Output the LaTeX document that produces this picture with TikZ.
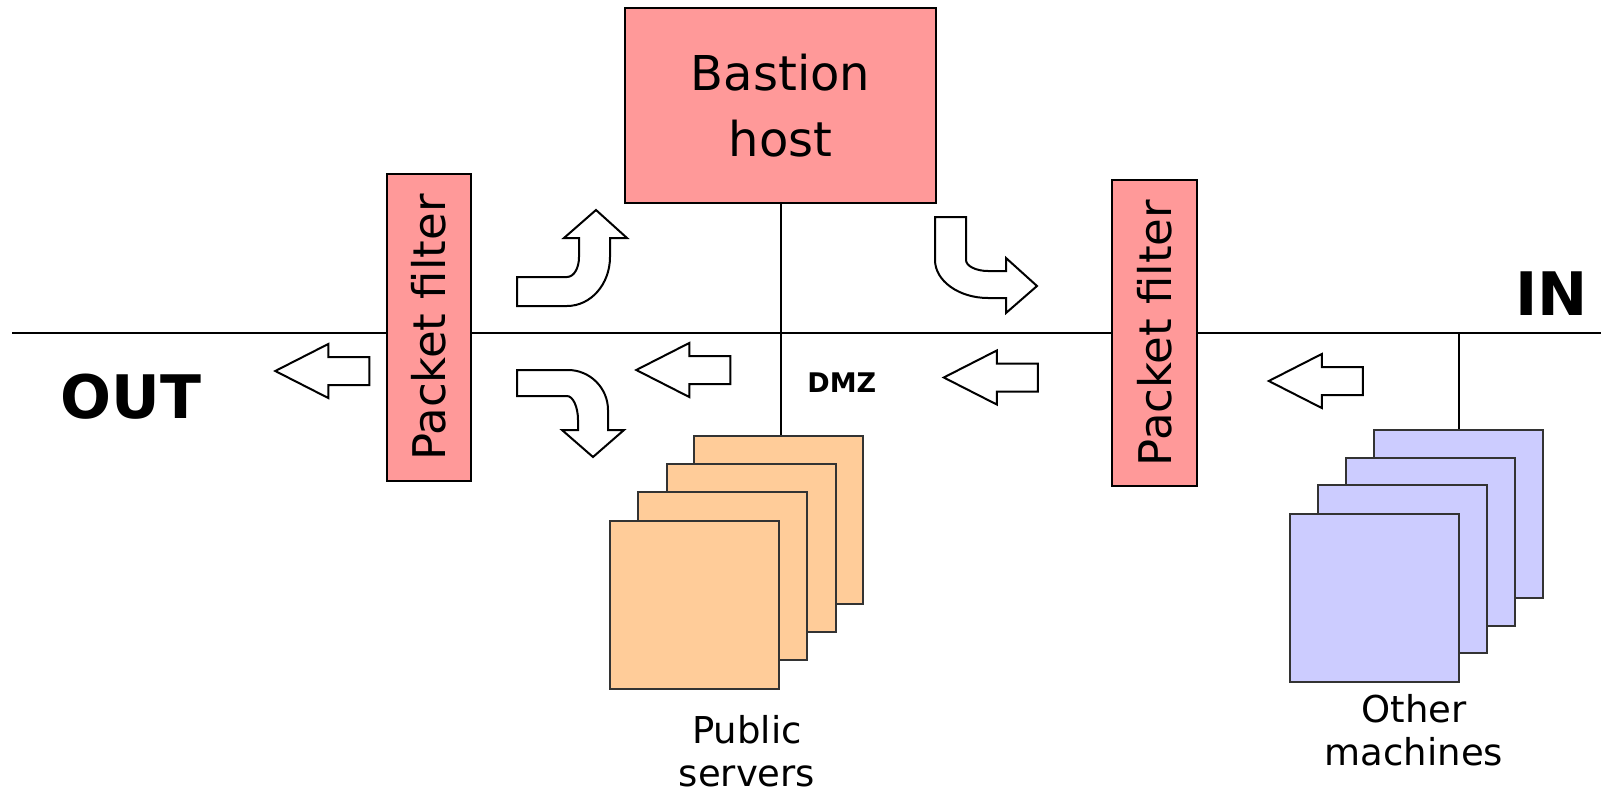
\documentclass[tikz,border=0pt]{standalone}
\usepackage{fontspec}
\setmainfont{DejaVu Sans}
\usetikzlibrary{positioning,shapes.arrows}
\definecolor{pinkbox}{RGB}{255,153,153}
\definecolor{srvfill}{RGB}{255,204,153}
\definecolor{othfill}{RGB}{204,204,255}
\tikzset{
  wire/.style   = {line width=1pt},
  hbox/.style   = {draw, fill=pinkbox, line width=1pt, inner sep=0pt,
                   minimum width=155.5pt, minimum height=97.5pt, align=center,
                   font=\fontsize{24}{33}\selectfont},
  pfbox/.style  = {draw, fill=pinkbox, line width=1pt, inner sep=0pt,
                   minimum width=42pt, minimum height=153.5pt,
                   font=\fontsize{22.5}{27}\selectfont},
  srv/.style    = {draw=black!80, fill=srvfill, line width=1pt, inner sep=0pt,
                   minimum width=84.5pt, minimum height=84pt},
  oth/.style    = {srv, fill=othfill},
  blk/.style    = {single arrow, draw, fill=white, line width=1pt,
                   inner xsep=0pt, inner ysep=6.5pt, minimum height=47pt,
                   single arrow head extend=6.5pt, single arrow tip angle=54,
                   shape border rotate=180},
  carrow/.style = {draw, fill=white, line width=1pt},
  lbl/.style    = {inner sep=0pt, align=center, font=\fontsize{18.5}{21.5}\selectfont},
  blbl/.style   = {inner sep=0pt, font=\bfseries\fontsize{30}{36}\selectfont},
}
\begin{document}
\begin{tikzpicture}[x=0.5pt, y=-0.5pt]
  \useasboundingbox (0,0) rectangle (1601,797);
  % boxes
  \node[hbox] (bast) at (780.5,105.5) {Bastion\\host};
  \node[pfbox] (pf1) at (429,327.5) {\rotatebox{90}{Packet filter}};
  \node[pfbox, minimum width=42.5pt, minimum height=153pt] (pf2) at (1154.5,333)
    {\rotatebox{90}{Packet filter}};
  % bus
  \coordinate (outend) at (12,333);
  \coordinate (inend) at (1601,333);
  \draw[wire] (outend) -- (outend -| pf1.west);
  \draw[wire] (pf1.east |- outend) -- (pf2.west |- outend);
  \draw[wire] (pf2.east |- outend) -- (inend);
  % public servers
  \node[srv] (pub4) at (778.5,520) {};
  \node[srv] (pub3) at (751,548) {};
  \node[srv] (pub2) at (722.5,576) {};
  \node[srv] (pub1) at (694.5,604.5) {};
  \draw[wire] (bast.south) -- (bast.south |- pub4.north);
  % other machines
  \node[oth] (oth4) at (1458.5,513.5) {};
  \node[oth] (oth3) at (1430.5,541.5) {};
  \node[oth] (oth2) at (1402.5,569) {};
  \node[oth] (oth1) at (1374,597.5) {};
  \draw[wire] (oth4.north) -- (oth4.north |- inend);
  % straight arrows
  \node[blk] (aout) at (336,371) {};
  \node[blk] (admz) at (697,370) {};
  \node[blk] (apf2) at (1004.5,377.5) {};
  \node[blk] (ain) at (1329.5,381) {};
  % curved arrows
  \draw[carrow] (517,277) -- (567,277) .. controls (574,277) and (579,268) .. (579,257)
    -- (579,238) -- (564,238) -- (596,210) -- (627,238) -- (610,238) -- (610,257)
    .. controls (610,284) and (591,306) .. (567,306) -- (517,306) -- cycle;
  \draw[carrow] (517,370) -- (568,370) .. controls (590,370) and (608,388) .. (608,410)
    -- (608,430) -- (624,430) -- (593,457) -- (562,430) -- (578,430) -- (578,420)
    .. controls (578,407) and (573,396) .. (567,396) -- (517,396) -- cycle;
  \draw[carrow] (935,217) -- (966,217) -- (966,260) .. controls (966,266) and (976,271) .. (988,271)
    -- (1006,271) -- (1006,258) -- (1037,286) -- (1006,313) -- (1006,298) -- (988,298)
    .. controls (959,298) and (935,281) .. (935,260) -- cycle;
  % labels
  \node[lbl, anchor=north] (pubtxt) at (747,715) {Public\\servers};
  \node[lbl, anchor=north] (othtxt) at (1414,694) {Other\\machines};
  \node[blbl, anchor=base west] (outtxt) at (60,418) {OUT};
  \node[blbl, anchor=base west] (intxt) at (1515,315) {IN};
  \node[inner sep=0pt, anchor=base west, font=\bfseries\fontsize{13.5}{16}\selectfont]
    (dmztxt) at (807,392) {DMZ};
\end{tikzpicture}
\end{document}
